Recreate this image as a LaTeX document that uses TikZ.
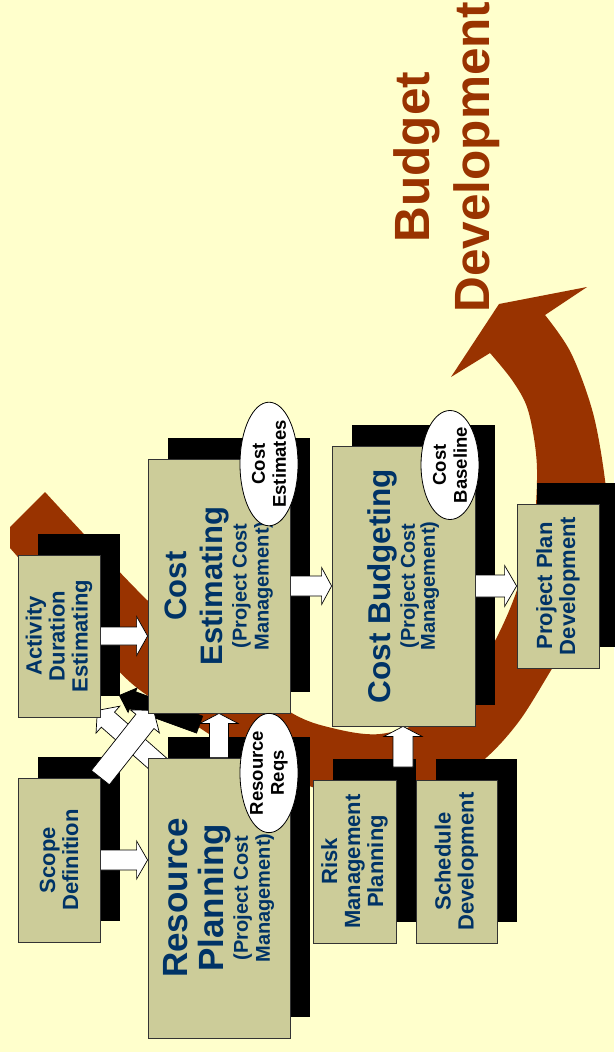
\documentclass[tikz,border=0pt]{standalone}
\usepackage{fontspec}
\setmainfont{Liberation Sans}
\usetikzlibrary{calc,shapes.geometric}
\definecolor{bgc}{HTML}{FFFFCC}
\definecolor{arcbrown}{HTML}{993300}
\definecolor{khaki}{HTML}{CCCC99}
\definecolor{navy}{HTML}{003366}
\definecolor{boxline}{HTML}{333333}
\pgfdeclarelayer{bglayer}
\pgfdeclarelayer{shadlayer}
\pgfdeclarelayer{arrlayer}
\pgfsetlayers{bglayer,shadlayer,arrlayer,main}
\newcommand\blockarrow[6][fill=white]{%
  \coordinate (bA) at (#2);
  \coordinate (bB) at (#3);
  \coordinate (bC) at ($(bB)!#6!(bA)$);
  \draw[#1] ($(bA)!#4!90:(bB)$) -- ($(bC)!#4!90:(bB)$) -- ($(bC)!#5!90:(bB)$) -- (bB)
    -- ($(bC)!#5!-90:(bB)$) -- ($(bC)!#4!-90:(bB)$) -- ($(bA)!#4!-90:(bB)$) -- cycle;}
\newcommand\fsSmall{\fontsize{22pt}{23pt}\selectfont}
\newcommand\fsSub{\fontsize{20pt}{36pt}\selectfont}
\newcommand\fsCE{\fontsize{31pt}{36pt}\selectfont}
\newcommand\fsRP{\fontsize{35pt}{36pt}\selectfont}
\newcommand\fsCB{\fontsize{31.5pt}{36pt}\selectfont}
\begin{document}
\begin{tikzpicture}[x=1pt,y=-1pt,
  box/.style={rectangle, draw=boxline, line width=0.8pt, fill=khaki, inner sep=0pt},
  boxtext/.style={rotate=90, align=center, text=navy, inner sep=0pt, font=\bfseries\fsCE},
  smalltext/.style={boxtext, font=\bfseries\fsSmall},
  ell/.style={ellipse, rotate=90, draw=black, line width=0.8pt, fill=white, inner sep=0pt,
    minimum width=109pt, minimum height=58pt, align=center,
    font=\bfseries\fontsize{18.5pt}{21pt}\selectfont},
  warr/.style={fill=white, draw=black, line width=0.7pt, line join=miter},
  barr/.style={fill=black, draw=black, line width=0.7pt, line join=miter}]
\useasboundingbox (0,0) rectangle (614,1052);
\begin{pgfonlayer}{bglayer}
\fill[bgc] (0,0) rectangle (614,1052);
\fill[arcbrown] (45,492) -- (10,527) -- (10,548)
  -- plot[smooth, tension=0.55] coordinates {(10,548) (70,616) (130,682) (183,717) (260,765) (330,792) (400,797) (450,783) (487,757) (520,720) (553,667) (577,628) (597,580) (608,530) (605,480) (593,413) (571,353) (545,315)}
  -- (587,287) -- (499,304) -- (451,377) -- (490,353)
  -- plot[smooth, tension=0.55] coordinates {(490,353) (512,380) (527,407) (535,445) (537,480) (533,530) (517,590) (497,637) (470,683) (430,718) (380,734) (332,728) (290,712) (220,662) (147,600) (45,492)}
  -- cycle;
\end{pgfonlayer}
% boxes
\node[box, minimum width=82pt, minimum height=162pt] (Act) at (59,636) {};
\node[box, minimum width=82pt, minimum height=164pt] (Scope) at (59,860) {};
\node[box, minimum width=142pt, minimum height=254pt] (CE) at (219,586) {};
\node[box, minimum width=142pt, minimum height=280pt] (RP) at (219,898) {};
\node[box, minimum width=143pt, minimum height=280pt] (CB) at (403.5,586) {};
\node[box, minimum width=82pt, minimum height=164pt] (PP) at (558,586) {};
\node[box, minimum width=83pt, minimum height=163pt] (Risk) at (354.5,861.5) {};
\node[box, minimum width=81pt, minimum height=163pt] (Sched) at (456.5,861.5) {};
% box texts
\node[smalltext] (Actt) at (Act) {Activity\\Duration\\Estimating};
\node[smalltext] (Scopet) at (Scope) {Scope\\Definition};
\node[boxtext] (CEt) at (CE) {\fsCE Cost\\\fsCE Estimating\\[-12pt]\fsSub (Project Cost\\[-14pt]\fsSub Management)};
\node[boxtext] (RPt) at (RP) {\fsRP Resource\\\fsRP Planning\\[-12pt]\fsSub (Project Cost\\[-14pt]\fsSub Management)};
\node[boxtext] (CBt) at (CB) {\fsCB Cost Budgeting\\[-12pt]\fsSub (Project Cost\\[-16pt]\fsSub Management)};
\node[smalltext] (PPt) at (PP) {Project Plan\\Development};
\node[smalltext] (Riskt) at (Risk) {Risk\\Management\\Planning};
\node[smalltext] (Schedt) at (Sched) {Schedule\\Development};
% shadows
\begin{pgfonlayer}{shadlayer}
\foreach \n in {Act,Scope,CE,RP,CB,PP,Risk,Sched}
  \fill[black] ([shift={(20,-21)}]\n.south west) rectangle ([shift={(20,-21)}]\n.north east);
\end{pgfonlayer}
% arrows
\begin{pgfonlayer}{arrlayer}
\coordinate (RS) at (403,767);
\blockarrow[barr]{$(RP.north west)+(52,-33)$}{$(Act.south east)+(19,-22)$}{9pt}{13pt}{14pt}
\blockarrow[warr]{$(RP.north west)+(17,12)$}{$(Act.south east)+(-3,-7)$}{10pt}{18pt}{14pt}
\blockarrow[warr]{Scope.north east}{$(CE.south west)+(6,-3)$}{11.5pt}{18.5pt}{14pt}
\blockarrow[warr]{Act.east}{CE.west |- Act.east}{9pt}{19.5pt}{11pt}
\blockarrow[warr]{Scope.east}{RP.west |- Scope.east}{10pt}{19pt}{11pt}
\blockarrow[warr]{CE.east |- CB.west}{CB.west}{10pt}{18.5pt}{10pt}
\blockarrow[warr]{CB.east}{PP.west |- CB.east}{11pt}{20.5pt}{12pt}
\blockarrow[warr]{RP.north}{CE.south}{9.5pt}{19pt}{10pt}
\blockarrow[warr]{RS}{CB.south -| RS}{10pt}{19pt}{10pt}
\end{pgfonlayer}
% ellipses
\node[ell] (CEst) at (269,464) {Cost\\Estimates};
\node[ell] (CBase) at (450,465) {Cost\\Baseline};
\node[ell] (RReq) at (269,773) {Resource\\Reqs};
% title
\node[rotate=90, align=center, text=arcbrown, inner sep=0pt,
  font=\bfseries\fontsize{49.5pt}{60pt}\selectfont] (title) at (447,157) {Budget\\Development};
\end{tikzpicture}
\end{document}
